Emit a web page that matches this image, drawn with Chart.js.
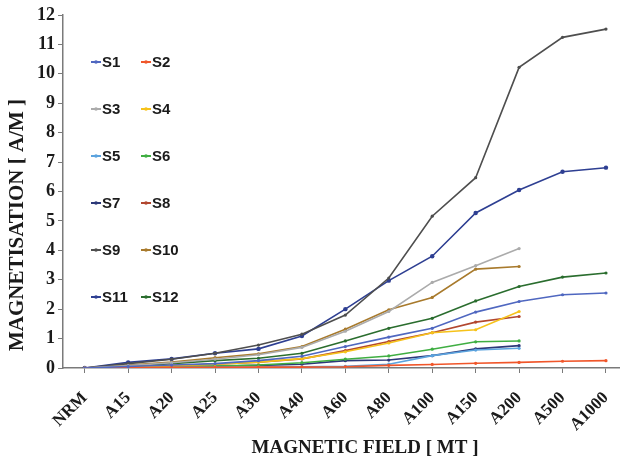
<!DOCTYPE html>
<html>
<head>
<meta charset="utf-8">
<script src="https://cdn.jsdelivr.net/npm/chart.js@4.4.1/dist/chart.umd.min.js"></script>
<style>
  html, body { margin: 0; padding: 0; background: #fff; }
  #wrap { width: 623px; height: 461px; position: relative; }
</style>
</head>
<body>
<div id="wrap"><canvas id="magChart"></canvas></div>
<script>
// field steps along the x axis
var fieldLabels = ['NRM', 'A15', 'A20', 'A25', 'A30', 'A40', 'A60', 'A80', 'A100', 'A150', 'A200', 'A500', 'A1000'];
var yTicks = [0, 1, 2, 3, 4, 5, 6, 7, 8, 9, 10, 11, 12];

var seriesNames = ['S1', 'S2', 'S3', 'S4', 'S5', 'S6', 'S7', 'S8', 'S9', 'S10', 'S11', 'S12'];
var seriesColors = ['#4f67c0', '#f0562a', '#ababab', '#f6c21a', '#5ba3de', '#3fae42',
                    '#2c3878', '#b2472f', '#4e4e4e', '#a87a2c', '#2e3f92', '#2a6d2e'];

// magnetisation values, A/M
var s1  = [0, 0.05, 0.10, 0.15, 0.25, 0.40, 0.73, 1.05, 1.35, 1.90, 2.26, 2.49, 2.55];
var s2  = [0, 0.01, 0.02, 0.02, 0.03, 0.03, 0.04, 0.09, 0.12, 0.16, 0.19, 0.23, 0.25];
var s3  = [0, 0.08, 0.18, 0.30, 0.45, 0.70, 1.25, 1.92, 2.91, 3.48, 4.06, null, null];
var s4  = [0, 0.04, 0.08, 0.13, 0.20, 0.32, 0.55, 0.85, 1.20, 1.30, 1.92, null, null];
var s5  = [0, 0.01, 0.02, 0.02, 0.03, 0.04, 0.06, 0.13, 0.42, 0.61, 0.67, null, null];
var s6  = [0, 0.02, 0.05, 0.07, 0.10, 0.18, 0.30, 0.41, 0.64, 0.89, 0.92, null, null];
var s7  = [0, 0.02, 0.04, 0.06, 0.09, 0.13, 0.25, 0.27, 0.42, 0.65, 0.76, null, null];
var s8  = [0, 0.04, 0.08, 0.13, 0.20, 0.31, 0.59, 0.90, 1.20, 1.56, 1.75, null, null];
var s9  = [0, 0.15, 0.30, 0.50, 0.78, 1.15, 1.80, 3.06, 5.16, 6.47, 10.22, 11.24, 11.52];
var s10 = [0, 0.10, 0.20, 0.35, 0.48, 0.73, 1.32, 1.98, 2.40, 3.36, 3.45, null, null];
var s11 = [0, 0.19, 0.31, 0.50, 0.65, 1.09, 2.00, 2.97, 3.80, 5.27, 6.05, 6.67, 6.81];
var s12 = [0, 0.05, 0.15, 0.25, 0.33, 0.50, 0.92, 1.35, 1.69, 2.28, 2.77, 3.09, 3.23];

var allSeries = [s1, s2, s3, s4, s5, s6, s7, s8, s9, s10, s11, s12];

var SERIF = "'Liberation Serif', 'DejaVu Serif', serif";
var SANS = "'Liberation Sans', Arial, sans-serif";
var AXIS_GREY = '#7a7a7a';

var datasets = allSeries.map(function(vals, i) {
  var big = i === 10;
  return {
    label: seriesNames[i],
    data: vals.map(function(v, k) { return { x: k, y: v }; }),
    borderColor: seriesColors[i],
    backgroundColor: seriesColors[i],
    borderWidth: 1.6,
    pointRadius: big ? 2.2 : 1.6,
    pointBorderWidth: 0,
    tension: 0,
    spanGaps: false
  };
});

// legend in two columns plus the two axis titles
var sideText = {
  id: 'sideText',
  afterDraw: function(chart) {
    var ctx = chart.ctx;
    ctx.save();
    ctx.font = 'bold 15px ' + SANS;
    ctx.textBaseline = 'middle';
    ctx.textAlign = 'left';
    var rowsY = [62, 109, 156, 203, 250, 297];
    var colsX = [91, 141];
    for (var i = 0; i < seriesNames.length; i++) {
      var cx = colsX[i % 2];
      var cy = rowsY[Math.floor(i / 2)];
      ctx.strokeStyle = seriesColors[i];
      ctx.lineWidth = 2;
      ctx.beginPath();
      ctx.moveTo(cx, cy);
      ctx.lineTo(cx + 10, cy);
      ctx.stroke();
      ctx.fillStyle = seriesColors[i];
      ctx.beginPath();
      ctx.arc(cx + 5, cy, 1.8, 0, Math.PI * 2);
      ctx.fill();
      ctx.fillStyle = '#1a1a1a';
      ctx.fillText(seriesNames[i], cx + 11, cy + 1);
    }

    ctx.fillStyle = '#1a1a1a';
    ctx.textAlign = 'center';
    ctx.font = 'bold 19px ' + SERIF;
    ctx.fillText('MAGNETIC FIELD [ MT ]', 365, 448);
    ctx.font = 'bold 21px ' + SERIF;
    ctx.translate(18, 225);
    ctx.rotate(-Math.PI / 2);
    ctx.fillText('MAGNETISATION [ A/M ]', 0, 0);
    ctx.restore();
  }
};

new Chart(document.getElementById('magChart'), {
  type: 'line',
  data: { datasets: datasets },
  options: {
    responsive: true,
    maintainAspectRatio: false,
    animation: false,
    layout: { padding: { top: 15, right: 0, left: 0, bottom: 0 } },
    plugins: {
      legend: { display: false },
      tooltip: { enabled: false }
    },
    scales: {
      x: {
        type: 'linear',
        min: -0.5,
        max: 12.3,
        afterBuildTicks: function(scale) {
          scale.ticks = fieldLabels.map(function(_, i) { return { value: i }; });
        },
        afterFit: function(scale) {
          scale.height = 93;
          scale.paddingLeft = 0;
          scale.paddingRight = 0;
        },
        grid: { display: true, drawOnChartArea: false, color: AXIS_GREY, tickLength: 5, lineWidth: 1 },
        border: { color: AXIS_GREY, width: 1.5 },
        ticks: {
          autoSkip: false,
          maxRotation: 45,
          minRotation: 45,
          padding: 15,
          color: '#1a1a1a',
          font: { family: SERIF, size: 17, weight: 'bold' },
          callback: function(v) { return fieldLabels[v]; }
        }
      },
      y: {
        min: 0,
        max: 12,
        afterBuildTicks: function(scale) {
          scale.ticks = yTicks.map(function(v) { return { value: v }; });
        },
        afterFit: function(scale) {
          scale.width = 63;
          scale.paddingTop = 0;
          scale.paddingBottom = 0;
        },
        grid: { display: true, drawOnChartArea: false, color: AXIS_GREY, tickLength: 5, lineWidth: 1 },
        border: { color: AXIS_GREY, width: 1.5 },
        ticks: {
          padding: 3,
          color: '#1a1a1a',
          font: { family: SERIF, size: 18, weight: 'bold' }
        }
      }
    }
  },
  plugins: [sideText]
});
</script>
</body>
</html>
